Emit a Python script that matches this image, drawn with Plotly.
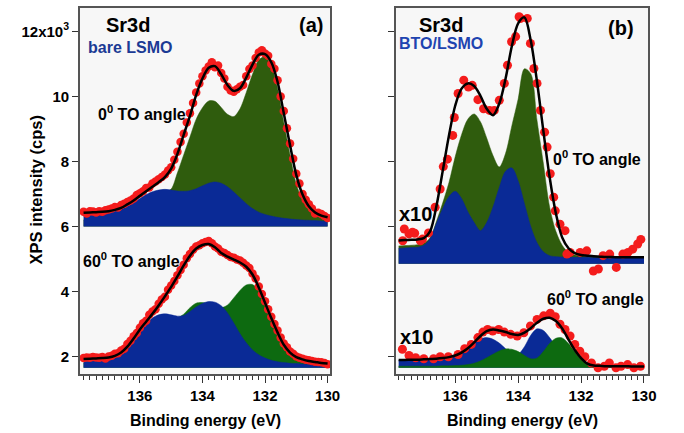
import plotly.graph_objects as go

# ---------------- data ----------------
X_GRID = [137.8, 137.6, 137.4, 137.2, 137.0, 136.8, 136.6, 136.4, 136.2, 136.0,
          135.8, 135.6, 135.4, 135.2, 135.0, 134.8, 134.6, 134.4, 134.2, 134.0,
          133.8, 133.6, 133.4, 133.2, 133.0, 132.8, 132.6, 132.4, 132.2, 132.0,
          131.8, 131.6, 131.4, 131.2, 131.0, 130.8, 130.6, 130.4, 130.2, 130.0]

X_DOTS_A = [137.8, 137.7, 137.6, 137.5, 137.4, 137.3, 137.2, 137.1, 137.0, 136.9,
            136.8, 136.7, 136.6, 136.5, 136.4, 136.3, 136.2, 136.1, 136.0, 135.9,
            135.8, 135.7, 135.6, 135.5, 135.4, 135.3, 135.2, 135.1, 135.0, 134.9,
            134.8, 134.7, 134.6, 134.5, 134.4, 134.3, 134.2, 134.1, 134.0, 133.9,
            133.8, 133.7, 133.6, 133.5, 133.4, 133.3, 133.2, 133.1, 133.0, 132.9,
            132.8, 132.7, 132.6, 132.5, 132.4, 132.3, 132.2, 132.1, 132.0, 131.9,
            131.8, 131.7, 131.6, 131.5, 131.4, 131.3, 131.2, 131.1, 131.0, 130.9,
            130.8, 130.7, 130.6, 130.5, 130.4, 130.3, 130.2, 130.1, 130.0]

# panel (a) bare LSMO, 0 deg (x10^3 cps)
A0_BASE = 6.0
A0_FIT = [6.42, 6.43, 6.44, 6.45, 6.47, 6.51, 6.57, 6.68, 6.80, 6.94,
          7.08, 7.22, 7.36, 7.52, 7.78, 8.23, 8.82, 9.40, 10.05, 10.55,
          10.88, 10.93, 10.68, 10.35, 10.17, 10.25, 10.58, 10.98, 11.28, 11.30,
          11.05, 10.45, 9.48, 8.50, 7.58, 6.98, 6.62, 6.43, 6.33, 6.28]
A0_BLUE = [6.38, 6.39, 6.40, 6.41, 6.43, 6.47, 6.53, 6.62, 6.73, 6.86,
           6.98, 7.07, 7.12, 7.14, 7.12, 7.09, 7.08, 7.10, 7.16, 7.25,
           7.33, 7.37, 7.33, 7.22, 7.06, 6.88, 6.70, 6.55, 6.44, 6.37,
           6.32, 6.28, 6.25, 6.23, 6.21, 6.20, 6.19, 6.18, 6.17, 6.16]
A0_GREEN = [6.20, 6.20, 6.20, 6.21, 6.22, 6.23, 6.25, 6.28, 6.33, 6.40,
            6.50, 6.65, 6.85, 7.05, 7.15, 7.65, 8.20, 8.75, 9.30, 9.65,
            9.86, 9.85, 9.66, 9.45, 9.38, 9.62, 10.12, 10.68, 11.12, 11.22,
            10.95, 10.25, 9.20, 8.20, 7.30, 6.80, 6.52, 6.36, 6.27, 6.23]
A0_DOTS = [6.45, 6.40, 6.47, 6.46, 6.43, 6.47, 6.45, 6.50, 6.52, 6.55,
           6.60, 6.58, 6.66, 6.70, 6.75, 6.80, 6.86, 6.97, 7.02, 7.08,
           7.18, 7.20, 7.32, 7.38, 7.45, 7.52, 7.60, 7.72, 7.82, 8.05,
           8.30, 8.60, 8.85, 9.20, 9.48, 9.80, 10.12, 10.40, 10.62, 10.80,
           10.92, 11.05, 10.90, 10.95, 10.72, 10.55, 10.30, 10.18, 10.14, 10.22,
           10.30, 10.35, 10.62, 10.84, 10.95, 11.18, 11.35, 11.42, 11.32, 11.25,
           11.00, 10.85, 10.50, 10.00, 9.55, 9.02, 8.55, 8.08, 7.62, 7.32,
           7.00, 6.82, 6.68, 6.55, 6.40, 6.42, 6.38, 6.32, 6.26]

# panel (a) bare LSMO, 60 deg
A60_BASE = 1.65
A60_FIT = [1.92, 1.93, 1.94, 1.95, 1.97, 2.02, 2.12, 2.30, 2.55, 2.83,
           3.07, 3.31, 3.57, 3.85, 4.14, 4.46, 4.80, 5.10, 5.32, 5.43,
           5.46, 5.36, 5.18, 5.07, 4.98, 4.89, 4.76, 4.52, 4.12, 3.65,
           3.18, 2.74, 2.36, 2.12, 1.98, 1.91, 1.86, 1.83, 1.80, 1.78]
A60_BLUE = [1.88, 1.89, 1.90, 1.91, 1.93, 1.98, 2.07, 2.25, 2.49, 2.76,
            3.00, 3.18, 3.28, 3.31, 3.28, 3.24, 3.26, 3.38, 3.52, 3.63,
            3.69, 3.67, 3.56, 3.34, 3.03, 2.70, 2.42, 2.20, 2.05, 1.95,
            1.88, 1.84, 1.81, 1.79, 1.78, 1.77, 1.76, 1.75, 1.74, 1.72]
A60_GREEN = [1.80, 1.80, 1.81, 1.82, 1.84, 1.88, 1.95, 2.05, 2.20, 2.40,
             2.55, 2.65, 2.85, 3.00, 3.10, 3.18, 3.30, 3.50, 3.64, 3.66,
             3.62, 3.54, 3.50, 3.58, 3.80, 4.03, 4.20, 4.21, 4.02, 3.64,
             3.16, 2.73, 2.34, 2.10, 1.95, 1.87, 1.83, 1.80, 1.77, 1.75]
A60_DOTS = [1.95, 1.97, 1.96, 1.98, 1.97, 1.96, 1.98, 1.94, 2.00, 2.02,
            2.08, 2.10, 2.18, 2.24, 2.38, 2.48, 2.62, 2.72, 2.88, 3.02,
            3.10, 3.28, 3.38, 3.45, 3.62, 3.75, 3.84, 4.05, 4.18, 4.32,
            4.50, 4.66, 4.82, 5.02, 5.15, 5.28, 5.38, 5.42, 5.48, 5.52,
            5.55, 5.48, 5.38, 5.32, 5.22, 5.18, 5.12, 5.06, 5.04, 4.98,
            4.95, 4.88, 4.80, 4.72, 4.55, 4.40, 4.15, 3.92, 3.70, 3.45,
            3.22, 3.00, 2.80, 2.58, 2.40, 2.28, 2.15, 2.08, 2.00, 1.96,
            1.93, 1.90, 1.88, 1.86, 1.84, 1.83, 1.82, 1.80, 1.76]

# panel (b) BTO/LSMO, 0 deg (x10)
B0_BASE = 4.85
B0_FIT = [5.57, 5.58, 5.59, 5.60, 5.64, 5.85, 6.62, 7.70, 8.80, 9.72,
          10.24, 10.40, 10.32, 10.02, 9.62, 9.42, 9.78, 10.55, 11.55, 12.25,
          12.43, 11.72, 10.45, 8.95, 7.52, 6.40, 5.66, 5.33, 5.18, 5.12,
          5.10, 5.08, 5.07, 5.06, 5.06, 5.05, 5.05, 5.05, 5.05, 5.05]
B0_BLUE = [5.33, 5.34, 5.35, 5.36, 5.42, 5.62, 6.10, 6.55, 6.92, 7.08,
           6.86, 6.45, 6.12, 5.87, 6.12, 6.60, 7.20, 7.70, 7.80, 7.40,
           6.70, 6.00, 5.50, 5.22, 5.10, 5.07, 5.06, 5.05, 5.05, 5.05,
           5.05, 5.04, 5.04, 5.04, 5.04, 5.04, 5.03, 5.03, 5.03, 5.03]
B0_GREEN = [5.40, 5.41, 5.42, 5.44, 5.48, 5.65, 6.15, 6.72, 7.35, 8.15,
            8.82, 9.30, 9.46, 9.22, 8.72, 8.18, 7.83, 8.25, 9.10, 9.92,
            10.85, 10.70, 9.26, 7.95, 6.60, 5.85, 5.42, 5.20, 5.12, 5.09,
            5.08, 5.07, 5.07, 5.06, 5.06, 5.06, 5.05, 5.05, 5.05, 5.05]
B0_DOTS_X = [137.67, 137.62, 137.47, 137.36, 137.29, 137.11, 137.04, 136.85, 136.64, 136.48,
             136.38, 136.25, 136.08, 136.03, 135.91, 135.73, 135.58, 135.46, 135.28, 135.10,
             134.91, 134.76, 134.60, 134.44, 134.34, 134.21, 134.08, 133.97, 133.92, 133.71,
             133.61, 133.50, 133.40, 133.29, 133.16, 133.08, 132.98, 132.87, 132.82, 132.67,
             132.51, 132.45, 132.35, 132.03, 131.82, 131.61, 131.45, 131.30, 131.09, 130.88,
             130.67, 130.51, 130.36, 130.20, 130.10]
B0_DOTS_Y = [5.56, 5.92, 5.77, 5.82, 5.79, 5.56, 5.61, 5.80, 6.59, 7.15,
             7.84, 8.07, 8.80, 9.35, 10.09, 10.50, 10.29, 10.34, 9.90, 9.62,
             9.57, 9.57, 9.88, 10.40, 10.96, 11.68, 11.84, 12.45, 12.40, 12.40,
             11.63, 10.86, 10.40, 9.57, 8.90, 8.44, 7.62, 6.90, 6.48, 6.07,
             5.87, 5.15, 5.20, 5.20, 5.25, 4.63, 4.69, 5.10, 5.15, 4.74,
             5.15, 5.20, 5.30, 5.46, 5.60]

# panel (b) BTO/LSMO, 60 deg (x10)
B60_BASE = 1.65
B60_FIT = [1.89, 1.89, 1.90, 1.90, 1.91, 1.92, 1.93, 1.95, 1.98, 2.03,
           2.12, 2.25, 2.43, 2.63, 2.78, 2.83, 2.80, 2.75, 2.69, 2.66,
           2.73, 2.87, 3.04, 3.16, 3.19, 3.09, 2.86, 2.52, 2.20, 1.95,
           1.78, 1.72, 1.71, 1.70, 1.70, 1.70, 1.70, 1.69, 1.69, 1.69]
B60_BLUE = [1.88, 1.88, 1.89, 1.89, 1.90, 1.91, 1.92, 1.93, 1.97, 2.05,
            2.15, 2.29, 2.43, 2.54, 2.58, 2.53, 2.41, 2.24, 2.08, 2.07,
            2.30, 2.65, 2.85, 2.80, 2.58, 2.30, 2.05, 1.88, 1.79, 1.75,
            1.73, 1.72, 1.71, 1.71, 1.70, 1.70, 1.70, 1.70, 1.70, 1.70]
B60_GREEN = [1.70, 1.70, 1.70, 1.70, 1.70, 1.70, 1.70, 1.71, 1.71, 1.72,
             1.73, 1.75, 1.79, 1.86, 1.96, 2.07, 2.17, 2.23, 2.22, 2.15,
             2.03, 1.93, 1.95, 2.15, 2.40, 2.56, 2.57, 2.40, 2.15, 1.92,
             1.78, 1.72, 1.70, 1.69, 1.69, 1.69, 1.68, 1.68, 1.68, 1.68]
B60_DOTS_X = [137.68, 137.47, 137.26, 137.00, 136.69, 136.48, 136.22, 135.91, 135.70, 135.49,
              135.28, 135.12, 134.97, 134.81, 134.62, 134.44, 134.24, 134.03, 133.82, 133.61,
              133.40, 133.19, 132.98, 132.82, 132.67, 132.51, 132.35, 132.20, 132.04, 131.88,
              131.67, 131.46, 131.26, 131.10, 130.89, 130.73, 130.52, 130.32, 130.11]
B60_DOTS_Y = [2.22, 2.03, 1.96, 1.93, 1.93, 1.99, 1.99, 2.06, 2.24, 2.37,
              2.58, 2.75, 2.83, 2.78, 2.83, 2.75, 2.68, 2.63, 2.73, 2.94,
              3.14, 3.25, 3.33, 3.22, 2.99, 2.83, 2.63, 2.37, 2.16, 1.99,
              1.80, 1.65, 1.70, 1.80, 1.65, 1.70, 1.75, 1.65, 1.70]

Y_TICKS = [2, 4, 6, 8, 10, 12]
Y_TICKTEXT = ["2", "4", "6", "8", "10", "12x10<sup>3</sup>"]
X_TICKS = [130, 132, 134, 136]

# ---------------- styling ----------------
FONT = "Liberation Sans, Arial, sans-serif"
BLUE = "#0a2a96"
GREEN_DARK = "#2f5c0d"
GREEN_BRIGHT = "#0d6a10"
RED = "#f41c1c"
W, H = 684, 433

fig = go.Figure()


def add_fill(xa, ya, base, curve, color):
    fig.add_trace(go.Scatter(x=X_GRID, y=[base] * len(X_GRID), mode="lines",
                             line=dict(width=0, color=color), xaxis=xa, yaxis=ya,
                             hoverinfo="skip", showlegend=False))
    fig.add_trace(go.Scatter(x=X_GRID, y=curve, mode="lines",
                             line=dict(width=0.5, color=color, shape="spline", smoothing=0.9),
                             fill="tonexty", fillcolor=color, xaxis=xa, yaxis=ya,
                             hoverinfo="skip", showlegend=False))


def add_dots(xa, ya, xs, ys, size):
    fig.add_trace(go.Scatter(x=xs, y=ys, mode="markers",
                             marker=dict(size=size, color=RED, line=dict(width=0)),
                             xaxis=xa, yaxis=ya, showlegend=False))


def add_fit(xa, ya, curve):
    fig.add_trace(go.Scatter(x=X_GRID, y=curve, mode="lines",
                             line=dict(width=2.5, color="black", shape="spline", smoothing=0.9),
                             xaxis=xa, yaxis=ya, showlegend=False))


# panel a, 0 deg
add_fill("x", "y", A0_BASE, A0_GREEN, GREEN_DARK)
add_fill("x", "y", A0_BASE, A0_BLUE, BLUE)
add_dots("x", "y", X_DOTS_A, A0_DOTS, 8.5)
add_fit("x", "y", A0_FIT)
# panel a, 60 deg
add_fill("x", "y", A60_BASE, A60_GREEN, GREEN_BRIGHT)
add_fill("x", "y", A60_BASE, A60_BLUE, BLUE)
add_dots("x", "y", X_DOTS_A, A60_DOTS, 8.5)
add_fit("x", "y", A60_FIT)
# panel b, 0 deg
add_fill("x2", "y2", B0_BASE, B0_GREEN, GREEN_DARK)
add_fill("x2", "y2", B0_BASE, B0_BLUE, BLUE)
add_dots("x2", "y2", B0_DOTS_X, B0_DOTS_Y, 9)
add_fit("x2", "y2", B0_FIT)
# panel b, 60 deg
add_fill("x2", "y2", B60_BASE, B60_BLUE, BLUE)
add_fill("x2", "y2", B60_BASE, B60_GREEN, GREEN_BRIGHT)
add_dots("x2", "y2", B60_DOTS_X, B60_DOTS_Y, 9)
add_fit("x2", "y2", B60_FIT)


def px(x):
    return x / W


def py(y):
    return 1 - y / H


YDOM = [py(374), py(8)]
YRANGE = [1.46, 12.72]
tickfont = dict(family=FONT, size=15, color="black", weight="bold")


def xaxis(dom, rng):
    return dict(domain=dom, range=rng, tickvals=X_TICKS, ticks="outside", ticklen=7,
                tickwidth=1.3, tickcolor="#333", showline=True, linecolor="#555",
                linewidth=1.5, mirror=True, showgrid=False, zeroline=False,
                tickfont=tickfont,
                minor=dict(dtick=0.2, tick0=130, ticks="outside", ticklen=4,
                           tickwidth=1, tickcolor="#333", showgrid=False))


def yaxis(dom, anchor, labels):
    return dict(domain=dom, range=YRANGE, anchor=anchor, tickvals=Y_TICKS,
                ticktext=Y_TICKTEXT if labels else [""] * len(Y_TICKS),
                ticks="outside", ticklen=6, tickwidth=1.3, tickcolor="#333",
                showline=True, linecolor="#555", linewidth=1.5, mirror=True,
                showgrid=False, zeroline=False, tickfont=tickfont)


fig.update_layout(
    width=W, height=H, autosize=False,
    margin=dict(l=0, r=0, t=0, b=0),
    paper_bgcolor="white", plot_bgcolor="#f7f7f7",
    showlegend=False,
    xaxis=xaxis([px(81), px(335)], [137.92, 129.92]),
    xaxis2=xaxis([px(402), px(658)], [137.88, 129.86]),
    yaxis=yaxis(YDOM, "x", True),
    yaxis2=yaxis(YDOM, "x2", False),
)
fig.layout.xaxis.anchor = "y"
fig.layout.xaxis2.anchor = "y2"


def note(text, x, y, size, color="black", xanchor="left", angle=0):
    fig.add_annotation(text=text, x=px(x), y=py(y), xref="paper", yref="paper",
                       xanchor=xanchor, yanchor="middle", showarrow=False,
                       textangle=angle,
                       font=dict(family=FONT, size=size, color=color, weight="bold"))


note("Sr3d", 130, 25, 20, xanchor="center")
note("bare LSMO", 87, 47, 16, color="#1b3a94")
note("(a)", 316, 25, 20, xanchor="center")
note("0<sup>0</sup> TO angle", 97, 113, 16)
note("60<sup>0</sup> TO angle", 82, 260, 16)
note("Sr3d", 448, 25, 20, xanchor="center")
note("BTO/LSMO", 403, 43, 16, color="#1e44b0")
note("(b)", 630, 28, 20, xanchor="center")
note("0<sup>0</sup> TO angle", 559, 158, 16)
note("x10", 403, 214, 20)
note("60<sup>0</sup> TO angle", 553, 298, 16)
note("x10", 404, 337, 20)
note("XPS intensity (cps)", 37, 190, 16.5, xanchor="center", angle=-90)
note("Binding energy (eV)", 209, 420, 16, xanchor="center")
note("Binding energy (eV)", 530, 420, 16, xanchor="center")

fig.write_html("out.html", config={"displayModeBar": False},
               post_script="document.body.style.margin='0';")
